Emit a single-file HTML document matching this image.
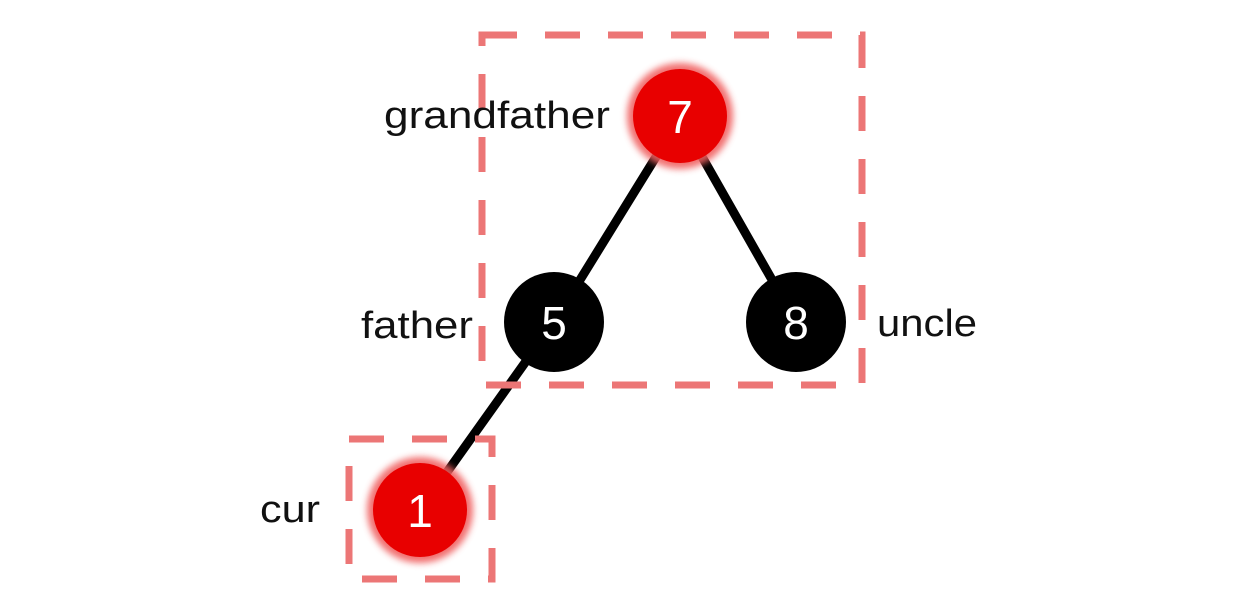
<!DOCTYPE html>
<html><head><style>
html,body{margin:0;padding:0;background:#fff;width:1256px;height:612px;overflow:hidden}
</style></head><body>
<svg width="1256" height="612" viewBox="0 0 1256 612" xmlns="http://www.w3.org/2000/svg">
<defs>
<filter id="g" x="-50%" y="-50%" width="200%" height="200%"><feGaussianBlur stdDeviation="3.5"/></filter>
</defs>
<g stroke="#000" stroke-width="9" stroke-linecap="round">
<line x1="680" y1="118" x2="554" y2="322"/>
<line x1="680" y1="118" x2="796" y2="322"/>
<line x1="554" y1="322" x2="420" y2="510"/>
</g>
<g fill="none" stroke="#ec7676" stroke-width="7" stroke-dasharray="35 28">
<rect x="482" y="35" width="380" height="350"/>
<rect x="349" y="439" width="143" height="140"/>
</g>
<circle cx="680" cy="116" r="53" fill="#f06060" filter="url(#g)" opacity="0.9"/>
<circle cx="680" cy="116" r="47" fill="#e80000"/>
<circle cx="420" cy="510" r="53" fill="#f06060" filter="url(#g)" opacity="0.9"/>
<circle cx="420" cy="510" r="47" fill="#e80000"/>
<circle cx="554" cy="322" r="50" fill="#000"/>
<circle cx="796" cy="322" r="50" fill="#000"/>
<g font-family="Liberation Sans, sans-serif" font-size="46" fill="#fff" text-anchor="middle">
<text x="680" y="133">7</text>
<text x="554" y="339">5</text>
<text x="796" y="339">8</text>
<text x="420" y="527">1</text>
</g>
<g font-family="Liberation Sans, sans-serif" font-size="38" fill="#111">
<text x="384" y="128" textLength="226" lengthAdjust="spacingAndGlyphs">grandfather</text>
<text x="361" y="338" textLength="112" lengthAdjust="spacingAndGlyphs">father</text>
<text x="877" y="336" textLength="100" lengthAdjust="spacingAndGlyphs">uncle</text>
<text x="260" y="522" textLength="60" lengthAdjust="spacingAndGlyphs">cur</text>
</g>
</svg>
</body></html>
